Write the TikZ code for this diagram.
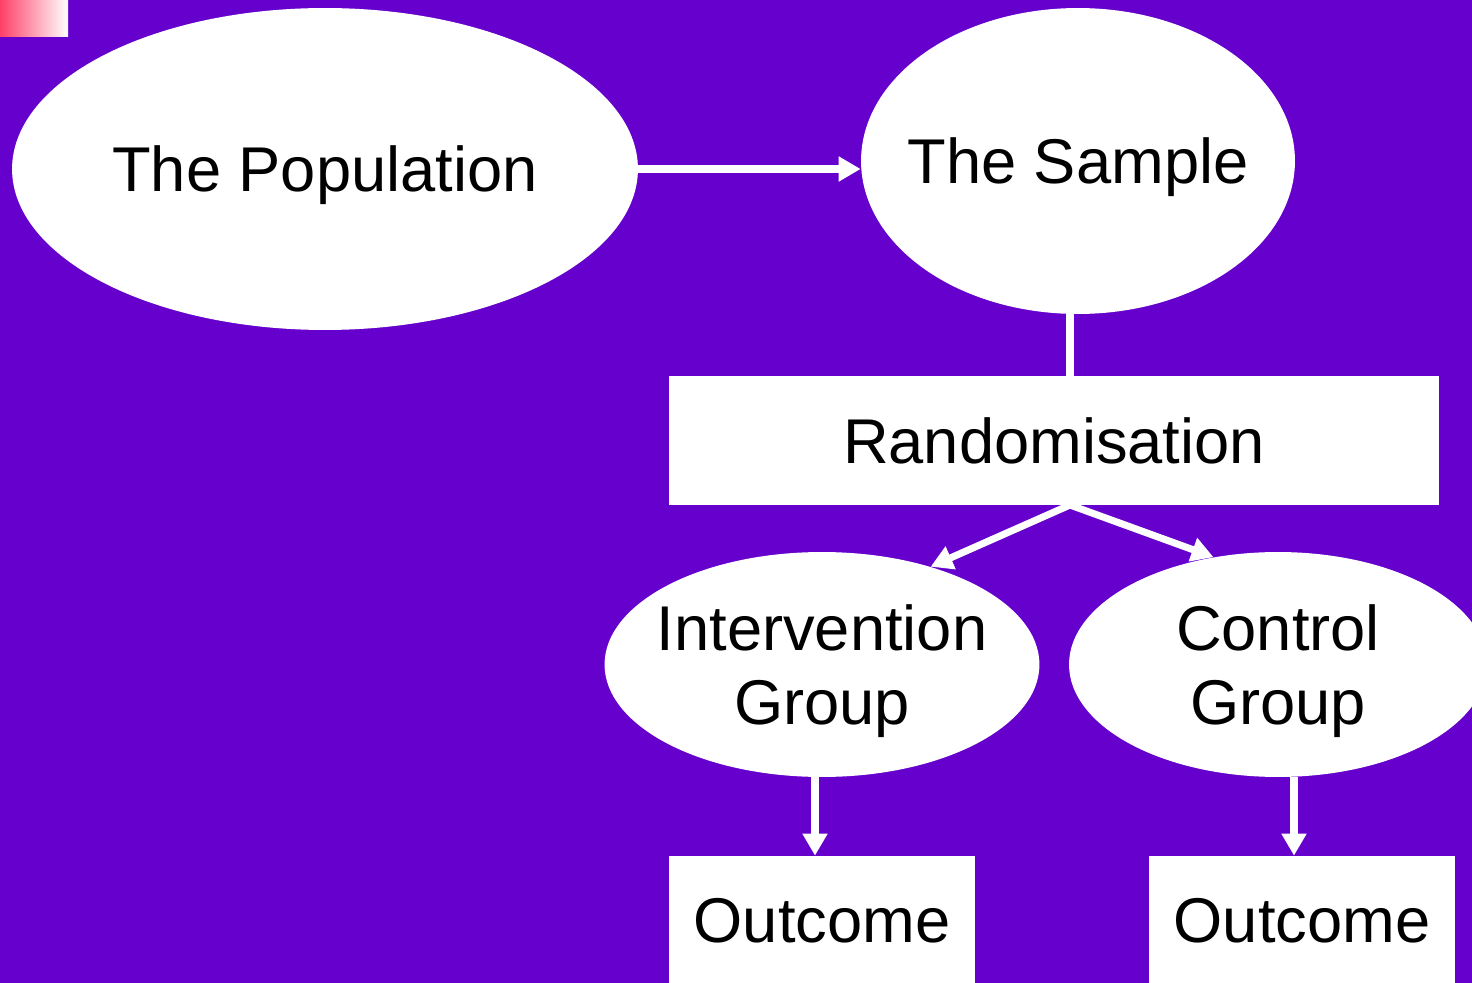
\documentclass[tikz,border=0pt]{standalone}
\usepackage{fontspec}
\setmainfont{Liberation Sans}
\usetikzlibrary{shapes.geometric,arrows.meta}

\definecolor{slidebg}{RGB}{102,0,204}
\definecolor{cornerpink}{RGB}{255,64,104}

\begin{document}
\begin{tikzpicture}[x=0.02cm,y=-0.02cm,
	bubble/.style={ellipse,fill=white,inner sep=0pt,align=center,text depth=0pt,
		font=\fontsize{36}{42.5}\selectfont},
	box/.style={rectangle,fill=white,inner sep=0pt,
		font=\fontsize{36}{42.5}\selectfont},
	flow/.style={white,line width=4pt,-{Triangle[length=12.5pt,width=13.5pt]}},
	link/.style={white,line width=4pt}]
	\useasboundingbox (0,0) rectangle (1472,983);
	\fill[slidebg] (0,0) rectangle (1472,983);
	\shade[left color=cornerpink,right color=white] (0,0) rectangle (68,37);

	\node[bubble,minimum width=12.52cm,minimum height=6.44cm] (pop) at (325,169) {The Population};
	\node[bubble,inner xsep=-0.35cm,minimum width=8.68cm,minimum height=6.12cm] (samp) at (1078,161) {The Sample};
	\node[box,minimum width=15.4cm,minimum height=2.58cm] (rand) at (1054,440.5) {Randomisation};
	\node[bubble,inner xsep=-0.23cm,minimum width=8.68cm,minimum height=4.5cm] (intv) at (822,664.5) {Intervention\\Group};
	\node[bubble,minimum width=8.36cm,minimum height=4.5cm] (ctrl) at (1278,664.5) {Control\\Group};
	\node[box,minimum width=6.12cm,minimum height=2.6cm] (out1) at (822,921) {Outcome};
	\node[box,minimum width=6.12cm,minimum height=2.6cm] (out2) at (1302,921) {Outcome};

	\coordinate (split) at (1070,505);

	\draw[flow] (pop.east) -- (samp.west |- pop.east);
	\draw[link] ([xshift=-0.16cm]samp.south) -- ([xshift=-0.16cm]samp.south |- rand.north);
	\draw[flow] (split) -- (intv.42);
	\draw[flow] (split) -- (ctrl.121);
	\draw[flow] ([xshift=-0.14cm]intv.south) -- ([xshift=-0.14cm]intv.south |- out1.north);
	\draw[flow] ([xshift=0.32cm]ctrl.south) -- ([xshift=0.32cm]ctrl.south |- out2.north);
\end{tikzpicture}
\end{document}
